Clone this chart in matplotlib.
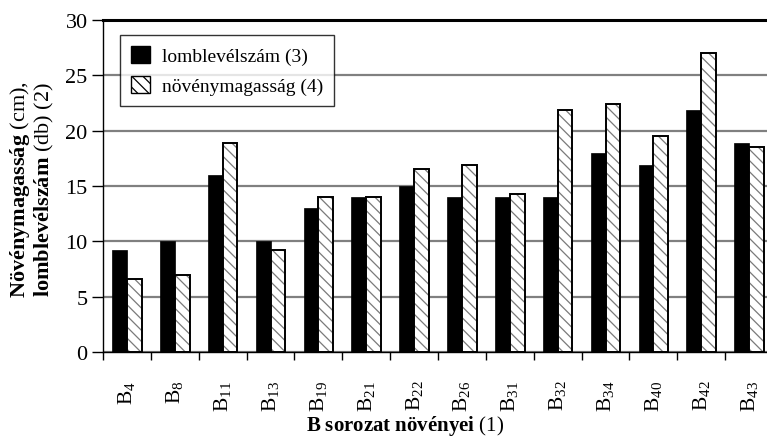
import matplotlib
matplotlib.use("Agg")
import matplotlib.pyplot as plt
import numpy as np
from matplotlib.patches import Patch

categories = ["4", "8", "11", "13", "19", "21", "22", "26", "31", "32", "34", "40", "42", "43"]
lomb = [9.2, 10, 16, 10, 13, 14, 15, 14, 14, 14, 18, 16.9, 21.9, 18.9]
magas = [6.6, 7.0, 18.9, 9.2, 14, 14, 16.5, 16.9, 14.3, 21.9, 22.4, 19.5, 27.0, 18.5]
yticks = [0, 5, 10, 15, 20, 25, 30]
label_lomb = "lomblevélszám (3)"
label_magas = "növénymagasság (4)"

plt.rcParams['font.family'] = ['Liberation Serif', 'DejaVu Serif']
plt.rcParams['mathtext.fontset'] = 'custom'
plt.rcParams['mathtext.rm'] = 'Liberation Serif'
plt.rcParams['mathtext.bf'] = 'Liberation Serif:bold'
plt.rcParams['mathtext.it'] = 'Liberation Serif:italic'
plt.rcParams['hatch.linewidth'] = 0.9

W, H = 767, 439
fig = plt.figure(figsize=(W/100, H/100), dpi=100)
left, right, top, bottom = 103, 773, 21, 353
ax = fig.add_axes([left/W, (H-bottom)/H, (right-left)/W, (bottom-top)/H])

n = len(categories)
centers = np.arange(n) + 0.5
bw = 0.31
hatch_col = '#7a7a7a'
ax.bar(centers - bw/2, lomb, width=bw, color='black', edgecolor='black', linewidth=0.5, zorder=3)
ax.bar(centers + bw/2, magas, width=bw, color='white', edgecolor=hatch_col, linewidth=0,
       hatch='\\\\\\', zorder=3)
ax.bar(centers + bw/2, magas, width=bw, facecolor='none', edgecolor='black', linewidth=1.4, zorder=4)

ax.set_xlim(0, n)
ax.set_ylim(0, 30)
ax.set_yticks(yticks)
ax.set_yticklabels([str(v) for v in yticks], fontsize=16)
ax.yaxis.grid(True, color='#808080', linewidth=1.6, zorder=0)
ax.set_axisbelow(True)

ax.set_xticks(np.arange(n + 1))
ax.set_xticklabels([])
ax.set_xticks(centers, minor=True)
ax.set_xticklabels([r'$\mathregular{B_{%s}}$' % c for c in categories], minor=True,
                   rotation=90, fontsize=15.5)
ax.tick_params(axis='x', which='major', length=6, width=1, direction='out')
ax.tick_params(axis='x', which='minor', length=0, pad=20)
ax.tick_params(axis='y', length=8, width=1, direction='out', pad=3)

for s in ['left', 'bottom']:
    ax.spines[s].set_linewidth(1.0)
    ax.spines[s].set_color('black')
ax.spines['top'].set_linewidth(2.2)
ax.spines['right'].set_visible(False)

handles = [Patch(facecolor='black', edgecolor='black'),
           Patch(facecolor='white', edgecolor='black', hatch='\\\\\\', linewidth=1.0)]
leg = ax.legend(handles, [label_lomb, label_magas], loc='upper left',
                bbox_to_anchor=(17/(right-left), 1 - 15/(bottom-top)),
                fontsize=14, frameon=True, fancybox=False, shadow=False,
                handlelength=1.0, handleheight=1.0, handletextpad=0.6,
                borderpad=0.55, labelspacing=0.55, borderaxespad=0)
leg.get_frame().set_edgecolor('black')
leg.get_frame().set_linewidth(1.0)

fig.text(405/W, 1 - 426/H, r'$\mathbf{B\ sorozat\ növényei}$ (1)', ha='center', va='center', fontsize=15)
fig.text(20/W, 1 - 190/H, r'$\mathbf{Növénymagasság}$ (cm),', ha='center', va='center',
         rotation=90, fontsize=16)
fig.text(44/W, 1 - 190/H, r'$\mathbf{lomblevélszám}$ (db) (2)', ha='center', va='center',
         rotation=90, fontsize=16)

fig.savefig('out.png', dpi=100)
